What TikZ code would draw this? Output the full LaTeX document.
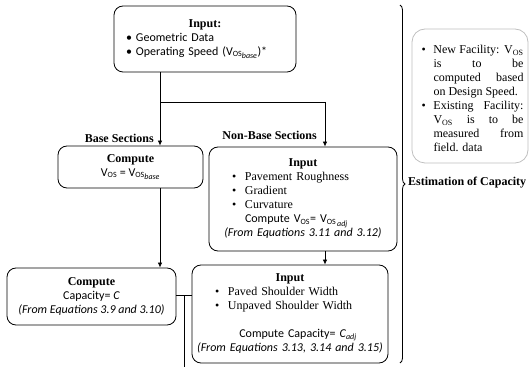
\documentclass[tikz,border=0pt]{standalone}
\usepackage{fontspec}
\setmainfont{Liberation Serif}
\newfontfamily\calfont{Carlito}
\usetikzlibrary{positioning, arrows.meta, decorations.pathreplacing}

\newcommand{\vos}{V\textsubscript{OS}}
\newcommand{\vossub}[1]{V\textsubscript{OS\raisebox{-0.5ex}{\itshape #1}}}
% punto con sangria: {posicion del punto}{posicion del texto}{texto}
\newcommand{\punto}[3]{\par\hangindent=#2\hangafter=1\noindent\hspace*{#1}\makebox[\dimexpr#2-#1\relax][l]{\textbullet}#3\par}

\tikzset{
    caja/.style={draw, line width=0.8pt, rounded corners=9pt, inner sep=4pt, font=\fontsize{12}{14}\selectfont},
    cajagris/.style={draw=black!25, line width=0.8pt, rounded corners=13pt, inner sep=4pt, font=\fontsize{12}{14}\selectfont},
    etiqueta/.style={font=\bfseries\fontsize{12}{14}\selectfont, inner sep=1pt},
    flecha/.style={-{Latex[length=5pt,width=4.5pt]}, line width=0.8pt},
    linea/.style={line width=0.8pt}
}

\begin{document}
\begin{tikzpicture}[x=1pt, y=1pt]
    \useasboundingbox (0,0) rectangle (530,367);
    % Cajas principales
    \node[caja, minimum width=182pt, minimum height=66pt, text width=174pt] (entrada) at (205,328) {
        {\centering\textbf{Input:}\par}
        {\calfont\hspace*{8pt}\textbullet\ Geometric Data\par
        \hspace*{8pt}\textbullet\ Operating Speed (\vossub{base})*\par}};
    \node[caja, minimum width=145pt, minimum height=42pt, align=center] (base) at (130.5,200)
        {\textbf{Compute}\\{\calfont\vos{} = \vossub{base}}};
    \node[caja, minimum width=188pt, minimum height=104pt, text width=180pt] (nobase) at (303,168) {
        {\centering\textbf{Input}\par}
        \punto{19pt}{32pt}{Pavement Roughness}
        \punto{19pt}{32pt}{Gradient}
        \punto{19pt}{32pt}{Curvature}
        {\calfont\hspace*{32pt}Compute \vos= \vossub{\,adj}\par}
        {\centering\calfont\itshape (From Equations 3.11 and 3.12)\par}};
    \node[caja, minimum width=169pt, minimum height=57pt, align=center] (capacidad) at (91.5,70.5)
        {\textbf{Compute}\\{\calfont Capacity= \textit{C}}\\{\calfont\itshape (From Equations 3.9 and 3.10)}};
    \node[caja, minimum width=196pt, minimum height=98pt, text width=188pt] (ajuste) at (290,53) {
        {\centering\textbf{Input}\par}
        \punto{19pt}{32pt}{Paved Shoulder Width}
        \punto{19pt}{32pt}{Unpaved Shoulder Width}
        \vspace{14pt}
        {\centering\calfont\hspace*{16pt}Compute Capacity= \textit{C}\textsubscript{\itshape adj}\par}
        {\centering\calfont\itshape (From Equations 3.13, 3.14 and 3.15)\par}};
    % Nota lateral
    \node[cajagris, minimum width=116pt, minimum height=134pt, text width=107pt, align=justify] (nota) at (470,271) {
        \punto{5pt}{17pt}{New Facility: \vos\linebreak is to be\linebreak computed based\linebreak on Design Speed.}
        \punto{5pt}{17pt}{Existing Facility:\linebreak \vos{} is to be\linebreak measured from\linebreak field. data}};
    % Puntos de paso
    \coordinate (rama) at (160,265);
    \coordinate (ramanb) at (325,265);
    \coordinate (union) at (184,72);
    \coordinate (salida) at (184,0);
    % Conectores
    \draw[linea] (entrada.south -| rama) -- (rama) -- (ramanb);
    \draw[flecha] (rama) -- (rama |- base.north);
    \draw[flecha] (ramanb) -- (ramanb |- nobase.north);
    \draw[flecha] (base.south -| rama) -- (rama |- capacidad.north);
    \draw[flecha] (nobase.south -| ramanb) -- (ramanb |- ajuste.north);
    \draw[linea] (capacidad.east |- union) -- (ajuste.west |- union);
    \draw[linea] (union) -- (salida);
    % Etiquetas
    \node[etiqueta, anchor=east] (lbase) at (155,229) {Base Sections};
    \node[etiqueta, anchor=east] (lnobase) at (318,232) {Non-Base Sections};
    % Llave
    \draw[linea, decorate, decoration={brace, amplitude=5pt}] (400,362) -- (400,4);
    \node[etiqueta, anchor=west] (lestim) at (407,184) {Estimation of Capacity};
\end{tikzpicture}
\end{document}
